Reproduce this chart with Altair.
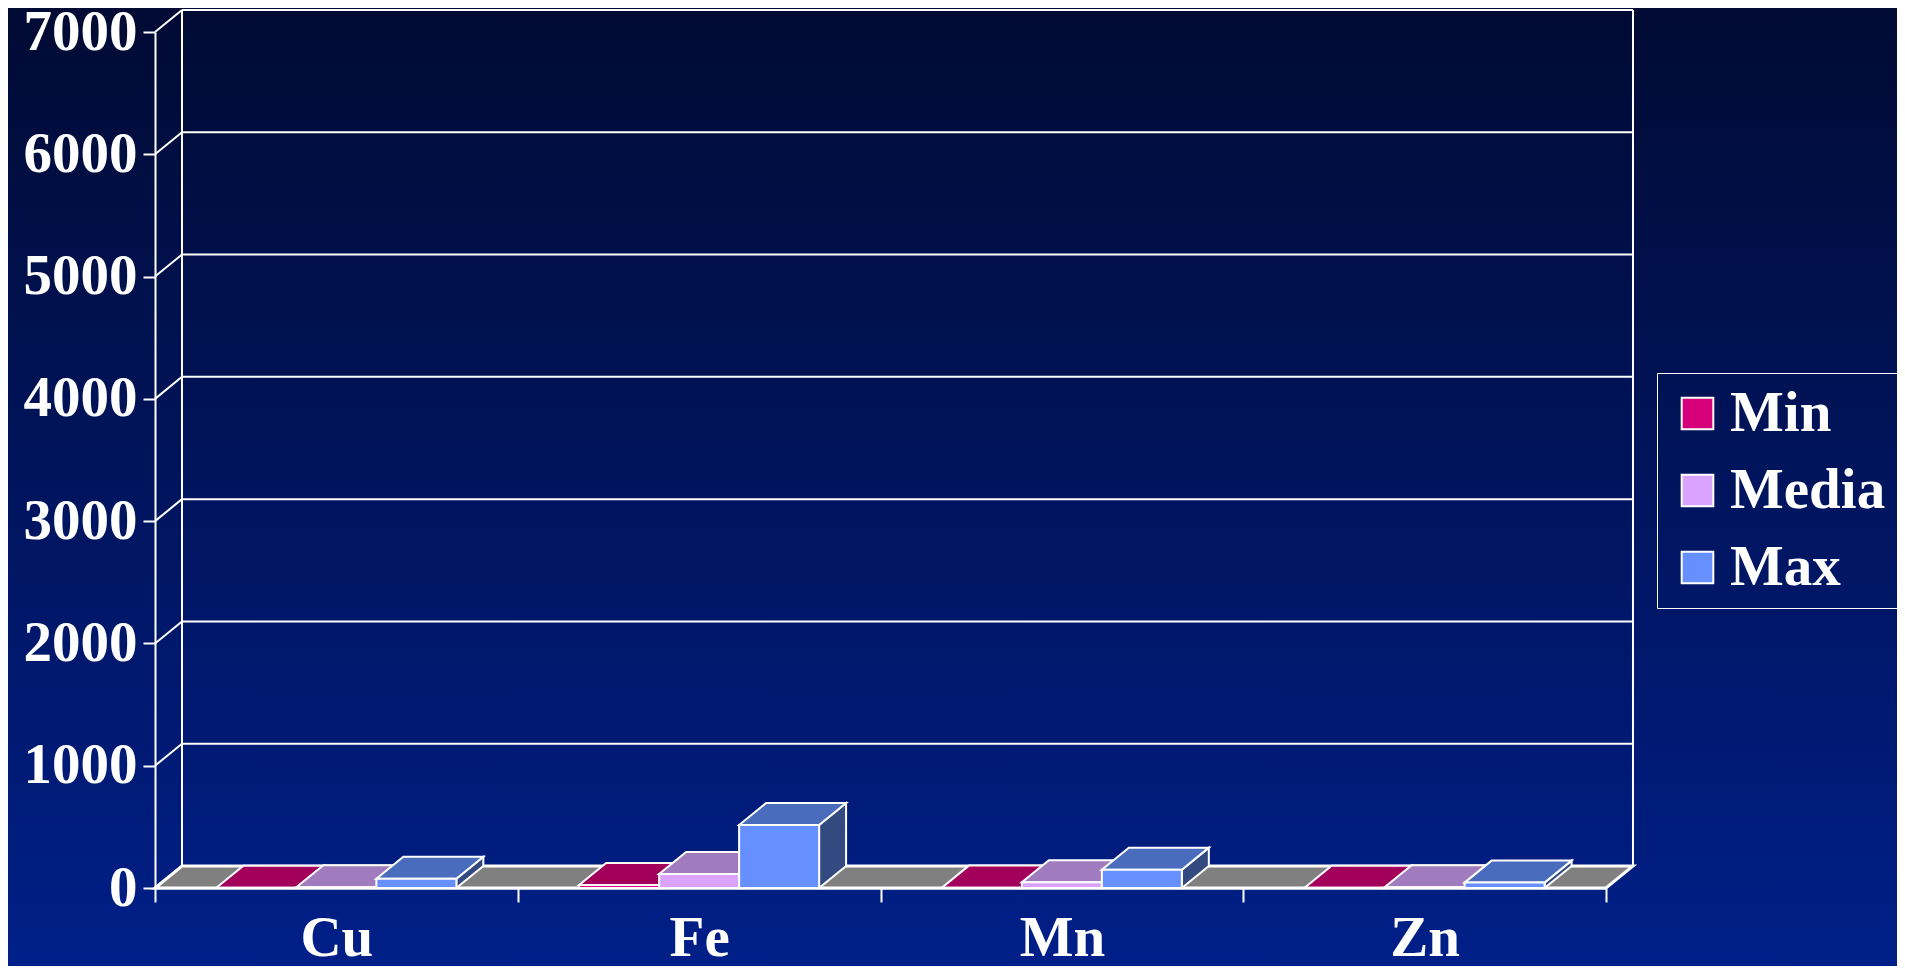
import json
import altair as alt
import pandas as pd

# ---------------- data ----------------
CATEGORIES = ["Cu", "Fe", "Mn", "Zn"]
SERIES = ["Min", "Media", "Max"]
MIN_VALUES = [2, 25, 3, 2]
MEDIA_VALUES = [6, 115, 47, 6]
MAX_VALUES = [75, 515, 150, 44]
Y_TICKS = [0, 1000, 2000, 3000, 4000, 5000, 6000, 7000]

# ---------------- styles ----------------
FRONT_COLORS = ["#d6007a", "#d9a3ff", "#6690ff"]
TOP_COLORS = ["#a3005c", "#a07bbd", "#4a6cbd"]
SIDE_COLORS = ["#6b003d", "#7a5a90", "#334a80"]
FLOOR_COLOR = "#808080"
BG_TOP = "#000a33"
BG_BOTTOM = "#001f88"
FONT = "Liberation Serif"
FS = 57

W, H = 1451, 856
PAD_L, PAD_T, PAD_R, PAD_B = 147, 24, 291, 78
Y_MAX = 7000
N = len(CATEGORIES)
BAR_W = 0.2205          # bar width in category units
DX = 0.0744             # depth (x) in category units  (~27 px)
DY = 180                # depth (y) in value units     (~22 px)

series_values = {"Min": MIN_VALUES, "Media": MEDIA_VALUES, "Max": MAX_VALUES}

# ---------------- derived tables ----------------
fronts, tops, sides = [], [], []
for i, cat in enumerate(CATEGORIES):
    for j, s in enumerate(SERIES):
        v = series_values[s][i]
        x0 = i + 0.5 - 1.5 * BAR_W + j * BAR_W
        bid = f"{i}-{j}"
        fronts.append({"id": bid, "series": s, "x": x0, "x2": x0 + BAR_W, "y": 0, "y2": v})
        tops += [
            {"id": bid, "series": s, "x": x0, "y": v, "y2": v},
            {"id": bid, "series": s, "x": x0 + DX, "y": v, "y2": v + DY},
            {"id": bid, "series": s, "x": x0 + BAR_W, "y": v, "y2": v + DY},
            {"id": bid, "series": s, "x": x0 + BAR_W + DX, "y": v + DY, "y2": v + DY},
        ]
        sides += [
            {"id": bid, "series": s, "x": x0 + BAR_W, "y": 0, "y2": v},
            {"id": bid, "series": s, "x": x0 + BAR_W + DX, "y": DY, "y2": v + DY},
        ]

fronts_df = pd.DataFrame(fronts)
tops_df = pd.DataFrame(tops)
sides_df = pd.DataFrame(sides)

floor_df = pd.DataFrame({
    "x": [0, DX, N, N + DX],
    "y": [0, 0, 0, DY],
    "y2": [0, DY, DY, DY],
})
grid_df = pd.DataFrame({"x": [DX] * len(Y_TICKS), "x2": [N + DX] * len(Y_TICKS),
                        "y": [t + DY for t in Y_TICKS]})
diag_df = pd.DataFrame({"x": [0] * len(Y_TICKS), "x2": [DX] * len(Y_TICKS),
                        "y": Y_TICKS, "y2": [t + DY for t in Y_TICKS]})
vert_df = pd.DataFrame({"x": [DX, N + DX], "y": [DY, DY], "y2": [Y_MAX + DY, Y_MAX + DY]})

XS = alt.Scale(domain=[0, N], nice=False, zero=False)
YS = alt.Scale(domain=[0, Y_MAX], nice=False)

label_expr = f"datum.value < {N} ? {json.dumps(CATEGORIES)}[datum.value] : ''"

X_AXIS = alt.Axis(
    values=list(range(N + 1)), labelExpr=label_expr, labelOffset=W / N / 2,
    labelFlush=False, labelOverlap=False, labelBaseline="alphabetic", labelPadding=53,
    labelFont=FONT, labelFontSize=FS, labelFontWeight="bold", labelColor="white",
    tickSize=14, tickWidth=2, tickColor="white", domain=True, domainColor="white",
    domainWidth=2, grid=False, title=None, zindex=1,
)
Y_AXIS = alt.Axis(
    values=Y_TICKS, format="d", labelFont=FONT, labelFontSize=FS, labelFontWeight="bold",
    labelColor="white", labelPadding=6, tickSize=12, tickWidth=2, tickColor="white",
    domainColor="white", domainWidth=2, grid=False, title=None, zindex=1,
)


def xenc(field="x"):
    return alt.X(f"{field}:Q", scale=XS, axis=X_AXIS, title=None)


def yenc(field="y", stack=False):
    if stack:
        return alt.Y(f"{field}:Q", scale=YS, axis=Y_AXIS, title=None, stack=None)
    return alt.Y(f"{field}:Q", scale=YS, axis=Y_AXIS, title=None)


gradient = alt.Gradient(
    gradient="linear", x1=0, y1=0, x2=0, y2=1,
    stops=[alt.GradientStop(color=BG_TOP, offset=0), alt.GradientStop(color=BG_BOTTOM, offset=1)],
)
bg = alt.Chart(alt.Data(values=[{}])).mark_rect(fill=gradient).encode(
    x=alt.value(-PAD_L), x2=alt.value(W + PAD_R), y=alt.value(-PAD_T), y2=alt.value(H + PAD_B)
)

grid = alt.Chart(grid_df).mark_rule(color="white", strokeWidth=2).encode(
    x=xenc(), x2="x2:Q", y=yenc()
)
diag = alt.Chart(diag_df).mark_rule(color="white", strokeWidth=2).encode(
    x=xenc(), x2="x2:Q", y=yenc(), y2="y2:Q"
)
vert = alt.Chart(vert_df).mark_rule(color="white", strokeWidth=2).encode(
    x=xenc(), y=yenc(), y2="y2:Q"
)
floor = alt.Chart(floor_df).mark_area(fill=FLOOR_COLOR, stroke="white", strokeWidth=3).encode(
    x=xenc(), y=yenc(stack=True), y2="y2:Q"
)
side = alt.Chart(sides_df).mark_area(stroke="white", strokeWidth=2).encode(
    x=xenc(), y=yenc(stack=True), y2="y2:Q",
    detail="id:N",
    fill=alt.Fill("series:N", scale=alt.Scale(domain=SERIES, range=SIDE_COLORS), legend=None),
)
top = alt.Chart(tops_df).mark_area(stroke="white", strokeWidth=2).encode(
    x=xenc(), y=yenc(stack=True), y2="y2:Q",
    detail="id:N",
    fill=alt.Fill("series:N", scale=alt.Scale(domain=SERIES, range=TOP_COLORS), legend=None),
)
front = alt.Chart(fronts_df).mark_rect(stroke="white", strokeWidth=2).encode(
    x=xenc(), x2="x2:Q",
    y=yenc(), y2="y2:Q",
    fill=alt.Fill(
        "series:N", scale=alt.Scale(domain=SERIES, range=FRONT_COLORS),
        legend=alt.Legend(
            orient="none", legendX=1502, legendY=341, title=None,
            symbolType="square", symbolSize=1000, symbolStrokeColor="white",
            symbolStrokeWidth=2, symbolOpacity=1,
            labelFont=FONT, labelFontSize=FS, labelFontWeight="bold", labelColor="white",
            labelOffset=4, labelLimit=400, rowPadding=19, padding=12,
            strokeColor="white",
        ),
    ),
)

chart = (
    alt.layer(bg, grid, diag, vert, floor, side, top, front)
    .resolve_scale(fill="independent")
    .properties(
        width=W, height=H,
        padding={"left": PAD_L, "top": PAD_T, "right": PAD_R, "bottom": PAD_B},
        autosize=alt.AutoSizeParams(type="none"),
        background=BG_BOTTOM,
    )
    .configure_view(strokeWidth=0)
)

chart.save("out.html", embed_options={"renderer": "svg", "actions": False})
